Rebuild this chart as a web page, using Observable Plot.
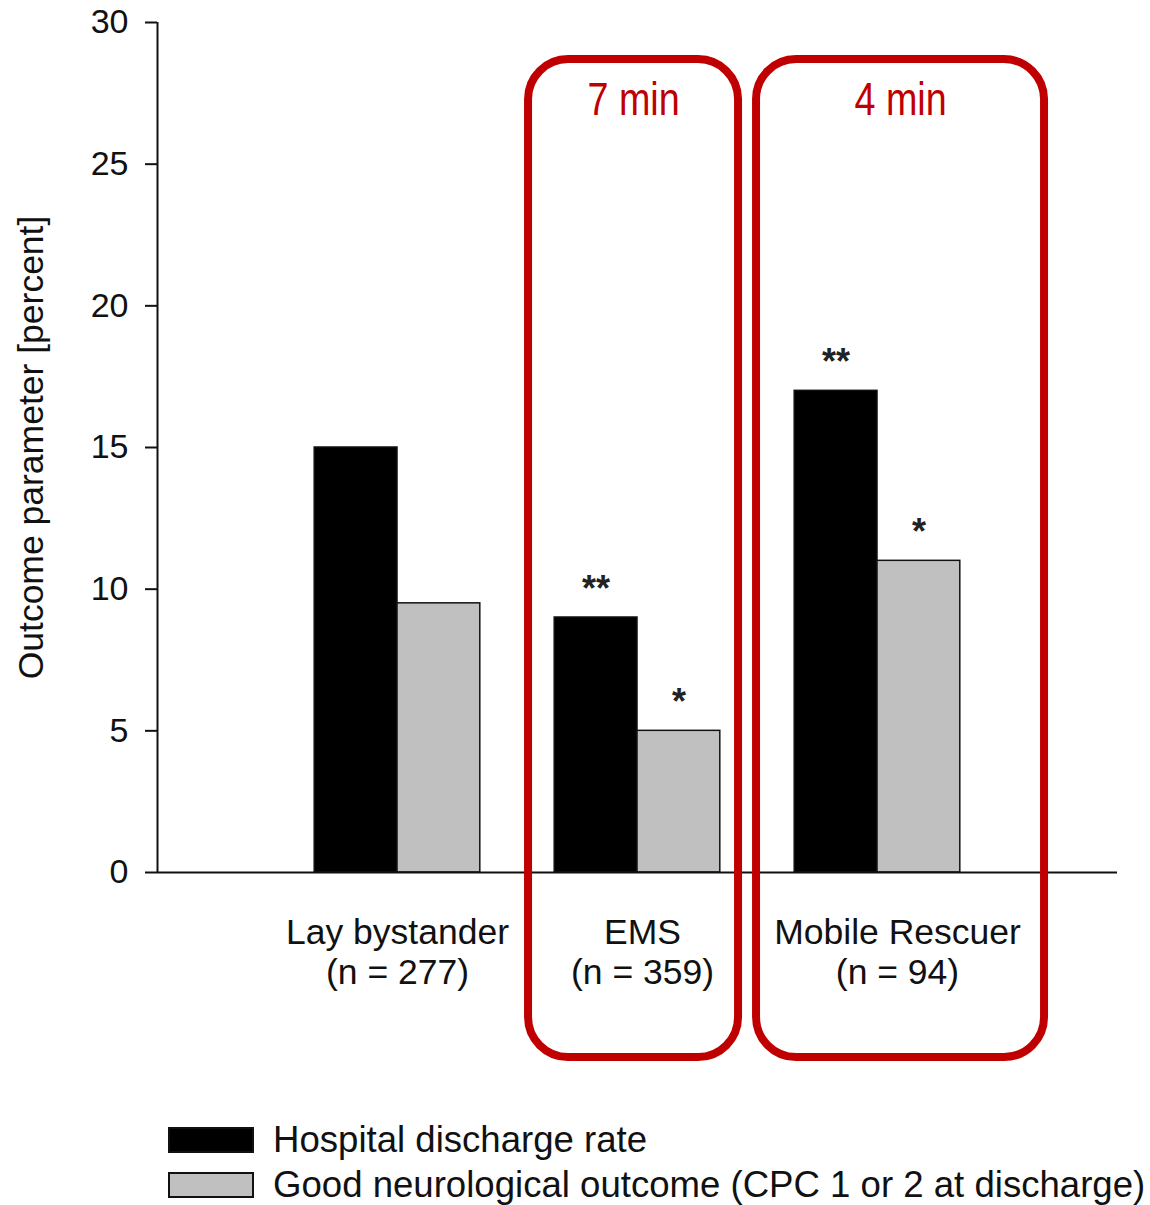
<!DOCTYPE html>
<html>
<head>
<meta charset="utf-8">
<script src="https://cdn.jsdelivr.net/npm/d3@7"></script>
<script src="https://cdn.jsdelivr.net/npm/@observablehq/plot@0.6"></script>
<style>
  html, body { margin: 0; padding: 0; background: #fff; }
  #chart svg { display: block; }
  .legend { font-family: "Liberation Sans", Arial, sans-serif; font-size: 36.6px; color: #111; margin-left: 168px; margin-top: 22px; }
  .legend .row { display: flex; align-items: center; height: 25px; margin-bottom: 20px; }
  .legend .sw { width: 82px; height: 22px; border: 2px solid #111; margin-right: 19px; box-sizing: content-box; }
</style>
</head>
<body>
<div id="chart"></div>
<script>
// ---- data ----
const groups = ["Lay bystander", "EMS", "Mobile Rescuer"];
const sampleSizes = ["(n = 277)", "(n = 359)", "(n = 94)"];
const dischargeRate = [15, 9, 17];
const goodNeuro = [9.5, 5, 11];
const sigDischarge = ["", "**", "**"];
const sigNeuro = ["", "*", "*"];
const seriesNames = ["Hospital discharge rate", "Good neurological outcome (CPC 1 or 2 at discharge)"];
const seriesColors = ["#000000", "#c0c0c0"];
const yTicks = [0, 5, 10, 15, 20, 25, 30];
// annotation boxes (group index extents, percent extents)
const boxLabels = ["7 min", "4 min"];
const boxX1 = [1.546, 2.496];
const boxX2 = [2.421, 3.696];
const boxY1 = [-6.53, -6.53];
const boxY2 = [28.69, 28.69];

// ---- layout constants ----
const barW = 0.345;
const labelDx = [0, 5, 20];

// ---- build table ----
const bars = [];
groups.forEach((g, i) => {
  const c = i + 1;
  bars.push({group: g, series: seriesNames[0], x1: c - barW, x2: c, value: dischargeRate[i], sig: sigDischarge[i]});
  bars.push({group: g, series: seriesNames[1], x1: c, x2: c + barW, value: goodNeuro[i], sig: sigNeuro[i]});
});
const cats = groups.map((g, i) => ({x: i + 1, label: g + "\n" + sampleSizes[i], dx: labelDx[i]}));
const boxes = boxLabels.map((l, i) => ({label: l, x1: boxX1[i], x2: boxX2[i], y1: boxY1[i], y2: boxY2[i]}));

const font = '"Liberation Sans", Arial, sans-serif';

const catMarks = cats.map(c => Plot.text([c], {x: "x", y: 0, text: "label", dy: 79, dx: c.dx, fontSize: 35.5, lineHeight: 1.13, fill: "#111"}));

const chart = Plot.plot({
  width: 1150,
  height: 1105,
  marginLeft: 157,
  marginRight: 33,
  marginTop: 22,
  marginBottom: 233,
  style: {fontFamily: font, fontSize: "34px", color: "#111", background: "#fff"},
  x: {domain: [0, 4], axis: null},
  y: {domain: [0, 30], label: null},
  color: {domain: seriesNames, range: seriesColors},
  marks: [
    Plot.axisY({ticks: yTicks, tickSize: 12, tickPadding: 17, label: null, fontSize: 34, stroke: "#111", strokeWidth: 2}),
    Plot.rect(bars, {x1: "x1", x2: "x2", y1: 0, y2: "value", fill: "series", stroke: "#111", strokeWidth: 1.5}),
    Plot.ruleX([0], {stroke: "#111", strokeWidth: 2}),
    Plot.ruleY([0], {stroke: "#111", strokeWidth: 2}),
    Plot.text(bars.filter(d => d.sig), {x: d => (d.x1 + d.x2) / 2, y: "value", text: "sig", dy: -28, fontSize: 36, fontWeight: "bold", fill: "#222"}),
    ...catMarks,
    Plot.rect(boxes, {x1: "x1", x2: "x2", y1: "y1", y2: "y2", rx: 40, fill: "none", stroke: "#c00000", strokeWidth: 8, clip: false}),
    Plot.text(boxes, {x: d => (d.x1 + d.x2) / 2, y: "y2", text: "label", dy: 41, fontSize: 46, fill: "#c00000", className: "boxlabel"}),
    Plot.text(["Outcome parameter [percent]"], {frameAnchor: "left", textAnchor: "middle", rotate: -90, dx: -126, text: d => d, fontSize: 35.5, fill: "#111"})
  ]
});
document.getElementById("chart").appendChild(chart);

// narrow (Arial Narrow–like) look for the red labels
chart.querySelectorAll("g.boxlabel text").forEach(t => {
  const tr = t.getAttribute("transform") || "";
  t.setAttribute("transform", tr + " scale(0.82,1)");
});

const legend = document.createElement("div");
legend.className = "legend";
seriesNames.forEach((s, i) => {
  const row = document.createElement("div");
  row.className = "row";
  const sw = document.createElement("div");
  sw.className = "sw";
  sw.style.background = seriesColors[i];
  const t = document.createElement("span");
  t.textContent = s;
  row.appendChild(sw);
  row.appendChild(t);
  legend.appendChild(row);
});
document.body.appendChild(legend);
</script>
</body>
</html>
